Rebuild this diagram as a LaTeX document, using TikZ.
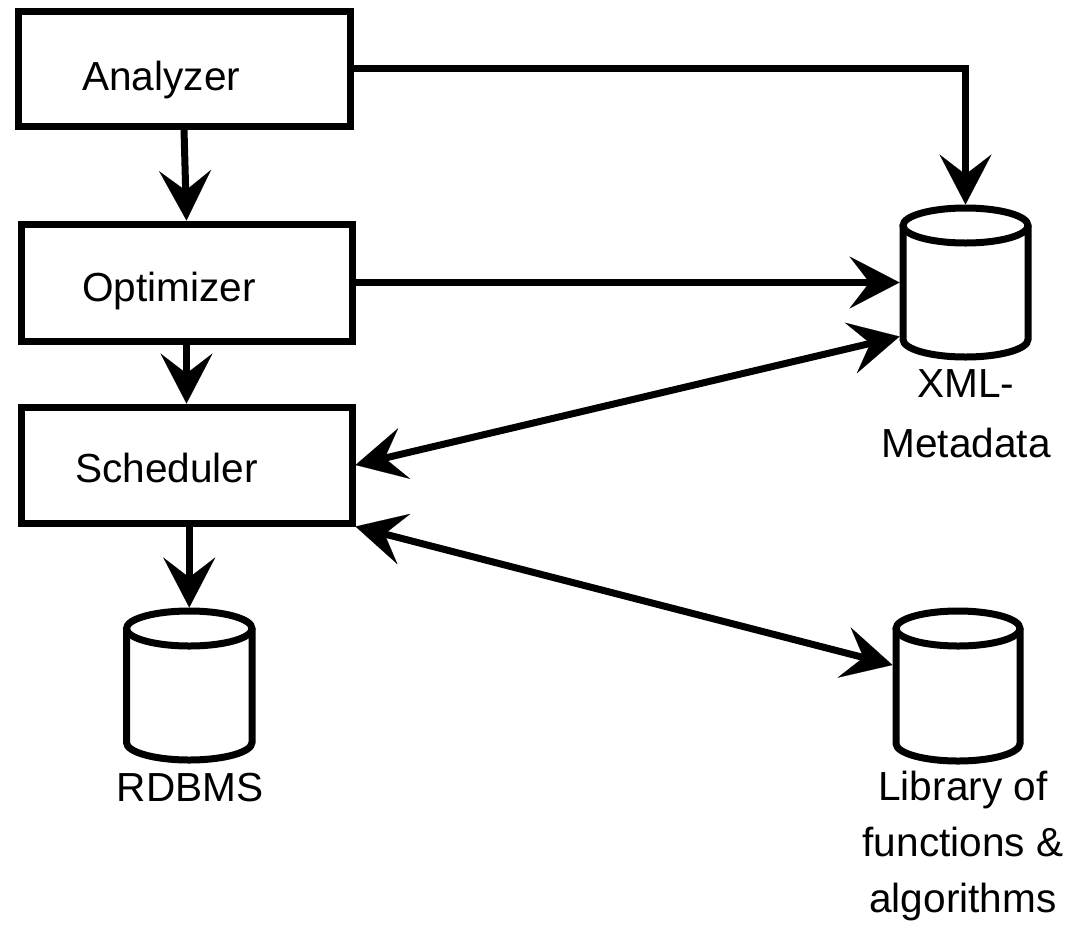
\documentclass[tikz,border=0pt]{standalone}
\usepackage{fontspec}
\setmainfont{Liberation Sans}
\usetikzlibrary{arrows.meta,calc}
\tikzset{
  wire/.style={line width=7pt, line join=miter},
  box/.style={draw, line width=7pt, rectangle, inner sep=0pt},
  cylbox/.style={draw=none, rectangle, inner sep=0pt, outer sep=0pt},
  lbl/.style={font=\fontsize{40.6}{57}\selectfont, inner sep=0pt, align=center},
  tipA/.tip={Stealth[length=50pt,width=52pt,inset=20pt,line width=0.1pt]},
  conn/.style={line width=7pt, -tipA},
  biconn/.style={line width=7pt, tipA-tipA},
}
\newcommand\dbcyl[5]{%
  \node[cylbox, minimum width={2*#4+7}, minimum height={2*#5+7}] (#1) at (#2,#3) {};
  \draw[wire] ({#2-#4},{#3-#5+17.5}) -- ({#2-#4},{#3+#5-17.5})
     arc[start angle=180, end angle=360, x radius=#4pt, y radius=17.5pt]
     -- ({#2+#4},{#3-#5+17.5});
  \draw[wire] (#2,{#3-#5+17.5}) ellipse[x radius=#4pt, y radius=17.5pt];
}
\begin{document}
\begin{tikzpicture}[x=1pt,y=-1pt]
\useasboundingbox (0,0) rectangle (1065,929);
% process boxes
\node[box, minimum width=332pt, minimum height=115pt] (an) at (184,68.5) {};
\node[box, minimum width=331pt, minimum height=117pt] (op) at (186.5,282.5) {};
\node[box, minimum width=331pt, minimum height=116pt] (sc) at (186.5,465) {};
\node[lbl, anchor=base west] (ant) at (82,90) {Analyzer};
\node[lbl, anchor=base west] (opt) at (82,301) {Optimizer};
\node[lbl, anchor=base west] (sct) at (75,482) {Scheduler};
% databases
\dbcyl{xml}{965.5}{282.5}{62.5}{74.5}
\dbcyl{rd}{189.25}{685.5}{62.75}{74.5}
\dbcyl{lib}{958}{686}{62}{75}
\node[lbl, font=\fontsize{40.6}{60}\selectfont, anchor=north] (xmlt) at (966,369) {XML-\\Metadata};
\node[lbl, anchor=north] (rdt) at (190,773) {RDBMS};
\node[lbl, font=\fontsize{40.6}{56}\selectfont, anchor=north] (libt) at (963,771) {Library of\\functions \&\\algorithms};
% connectors
\draw[conn] (an.east) -| (xml.north);
\draw[conn] (an.south) -- (op.north);
\draw[conn] (op.south) -- (sc.north);
\draw[conn] (op.east) -- (xml.west);
\draw[biconn] (sc.east) -- ([yshift=-54pt]xml.west);
\draw[biconn] (sc.south east) -- ([yshift=21pt]lib.west);
\draw[conn] (rd.north |- sc.south) -- (rd.north);
\end{tikzpicture}
\end{document}
